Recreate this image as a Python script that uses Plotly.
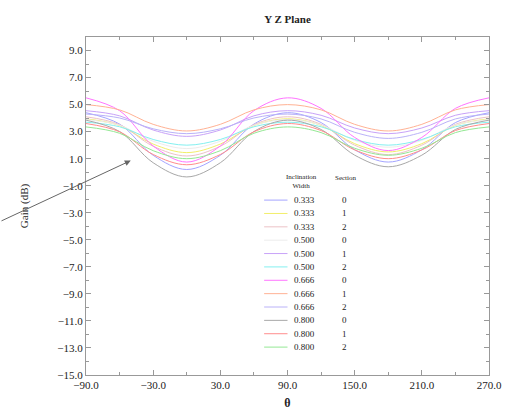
import plotly.graph_objects as go

# Angle samples (degrees)
theta = [-90, -60, -30, 0, 30, 60, 90, 120, 150, 180, 210, 240, 270]

# Inclination width / section of every curve
widths = ["0.333", "0.333", "0.333", "0.500", "0.500", "0.500",
          "0.666", "0.666", "0.666", "0.800", "0.800", "0.800"]
sections = ["0", "1", "2", "0", "1", "2", "0", "1", "2", "0", "1", "2"]

# Gain (dB) of each curve at the sampled angles
gain_0333_0 = [4.40, 3.56, 1.25, 0.20, 1.25, 3.56, 4.40, 3.67, 1.66, 0.75, 1.66, 3.67, 4.40]
gain_0333_1 = [3.95, 3.45, 2.08, 1.45, 2.08, 3.45, 3.95, 3.46, 2.11, 1.50, 2.11, 3.46, 3.95]
gain_0333_2 = [4.10, 3.52, 1.92, 1.20, 1.92, 3.52, 4.10, 3.54, 2.00, 1.30, 2.00, 3.54, 4.10]
gain_0500_0 = [3.90, 3.47, 2.29, 1.75, 2.29, 3.47, 3.90, 3.49, 2.36, 1.85, 2.36, 3.49, 3.90]
gain_0500_1 = [4.55, 4.17, 3.12, 2.65, 3.12, 4.17, 4.55, 4.21, 3.27, 2.85, 3.27, 4.21, 4.55]
gain_0500_2 = [3.70, 3.36, 2.42, 2.00, 2.42, 3.36, 3.70, 3.36, 2.42, 2.00, 2.42, 3.36, 3.70]
gain_0666_0 = [5.50, 4.55, 1.94, 0.75, 1.94, 4.55, 5.50, 4.72, 2.57, 1.60, 2.57, 4.72, 5.50]
gain_0666_1 = [5.00, 4.61, 3.54, 3.05, 3.54, 4.61, 5.00, 4.61, 3.54, 3.05, 3.54, 4.61, 5.00]
gain_0666_2 = [4.30, 4.01, 3.21, 2.85, 3.21, 4.01, 4.30, 3.94, 2.95, 2.50, 2.95, 3.94, 4.30]
gain_0800_0 = [3.85, 3.01, 0.70, -0.35, 0.70, 3.01, 3.85, 3.16, 1.26, 0.40, 1.26, 3.16, 3.85]
gain_0800_1 = [3.60, 2.99, 1.31, 0.55, 1.31, 2.99, 3.60, 3.08, 1.65, 1.00, 1.65, 3.08, 3.60]
gain_0800_2 = [3.35, 2.88, 1.59, 1.00, 1.59, 2.88, 3.35, 2.93, 1.77, 1.25, 1.77, 2.93, 3.35]

series = [gain_0333_0, gain_0333_1, gain_0333_2,
          gain_0500_0, gain_0500_1, gain_0500_2,
          gain_0666_0, gain_0666_1, gain_0666_2,
          gain_0800_0, gain_0800_1, gain_0800_2]

colors = ["#a4a4ff", "#f2ee6a", "#ecc2c6",
          "#ececec", "#c8a2f8", "#84f0f0",
          "#ff74ff", "#ffb294", "#bab2f8",
          "#a8a8a8", "#ff8c8c", "#94e894"]

x_ticks = [-90, -30, 30, 90, 150, 210, 270]
y_ticks = [-15, -13, -11, -9, -7, -5, -3, -1, 1, 3, 5, 7, 9]

W, H = 514, 420
L, R, T, B = 86, 14, 37, 39
PW, PH = W - L - R, H - T - B


def px(x):
    return (x - L) / PW


def py(y):
    return (H - B - y) / PH


serif = "Liberation Serif, Times New Roman, serif"
ink = "#222222"
fig = go.Figure()

for vals, col, w, s in zip(series, colors, widths, sections):
    fig.add_trace(go.Scatter(
        x=theta, y=vals, mode="lines", name=f"{w} {s}",
        line=dict(color=col, width=1, shape="spline", smoothing=1.0),
        showlegend=False, hoverinfo="skip"))

shapes = []
annotations = []

# Legend table drawn inside the plot area
row0, dy = 203, 13.6
for i, (col, w, s) in enumerate(zip(colors, widths, sections)):
    yy = row0 + i * dy
    shapes.append(dict(type="line", xref="paper", yref="paper",
                       x0=px(269), x1=px(293), y0=py(yy), y1=py(yy),
                       line=dict(color=col, width=1)))
    annotations.append(dict(xref="paper", yref="paper", x=px(310), y=py(yy),
                            text=w, showarrow=False, xanchor="center", yanchor="middle",
                            font=dict(family=serif, size=9, color=ink)))
    annotations.append(dict(xref="paper", yref="paper", x=px(352), y=py(yy),
                            text=s, showarrow=False, xanchor="center", yanchor="middle",
                            font=dict(family=serif, size=9, color=ink)))

annotations.append(dict(xref="paper", yref="paper", x=px(307), y=py(184),
                        text="Inclination<br>Width", showarrow=False,
                        xanchor="center", yanchor="middle",
                        font=dict(family=serif, size=7, color=ink)))
annotations.append(dict(xref="paper", yref="paper", x=px(353), y=py(180),
                        text="Section", showarrow=False,
                        xanchor="center", yanchor="middle",
                        font=dict(family=serif, size=7, color=ink)))

# Pointer arrow
annotations.append(dict(x=-50, y=0.86, xref="x", yref="y", ax=-132, ay=61,
                        axref="pixel", ayref="pixel", text="", showarrow=True,
                        arrowhead=2, arrowsize=1.2, arrowwidth=1, arrowcolor="#666"))

fig.update_layout(
    width=W, height=H,
    margin=dict(l=L, r=R, t=T, b=B),
    paper_bgcolor="white", plot_bgcolor="white",
    title=dict(text="<b>Y Z Plane</b>", x=px(293), xref="paper", xanchor="center",
               y=1 - 19 / H, yanchor="middle",
               font=dict(family=serif, size=11, color=ink)),
    font=dict(family=serif, size=11, color=ink),
    shapes=shapes, annotations=annotations,
    xaxis=dict(range=[-90, 270], tickvals=x_ticks, tickformat=".1f",
               ticks="inside", ticklen=5, tickcolor="#999",
               minor=dict(dtick=30, tick0=-90, ticks="inside", ticklen=3, tickcolor="#999"),
               showline=True, linecolor="#999", linewidth=1, mirror="allticks",
               showgrid=False, zeroline=False,
               title=dict(text="<b>θ</b>", standoff=8,
                          font=dict(family=serif, size=12, color=ink)),
               tickfont=dict(family=serif, size=11, color=ink)),
    yaxis=dict(range=[-15, 10], tickvals=y_ticks, tickformat=".1f",
               ticks="inside", ticklen=5, tickcolor="#999",
               minor=dict(dtick=1, tick0=-15, ticks="inside", ticklen=3, tickcolor="#999"),
               showline=True, linecolor="#999", linewidth=1, mirror="allticks",
               showgrid=False, zeroline=False,
               title=dict(text="Gain (dB)", standoff=26,
                          font=dict(family=serif, size=11, color=ink)),
               tickfont=dict(family=serif, size=11, color=ink)),
)

fig.write_html("out.html")
